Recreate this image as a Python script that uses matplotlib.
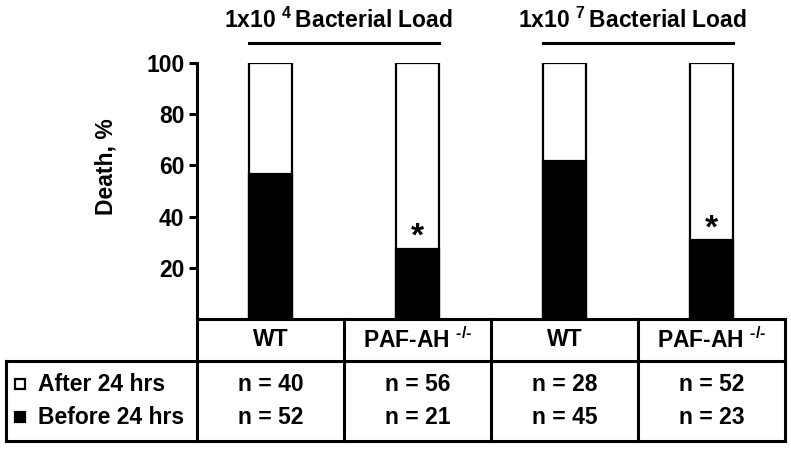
import matplotlib
matplotlib.use("Agg")
import matplotlib.pyplot as plt
import matplotlib.transforms as mtransforms

plt.rcParams['font.family'] = ['Liberation Sans', 'DejaVu Sans']
plt.rcParams['font.weight'] = 'bold'
plt.rcParams['mathtext.fontset'] = 'custom'
plt.rcParams['mathtext.rm'] = 'Liberation Sans:bold'
plt.rcParams['mathtext.bf'] = 'Liberation Sans:bold'
plt.rcParams['mathtext.default'] = 'bf'

# data
groups = ["WT", r"PAF-AH $^{\text{-/-}}$", "WT", r"PAF-AH $^{\text{-/-}}$"]
after_n = [40, 56, 28, 52]
before_n = [52, 21, 45, 23]
before_pct = [56.5, 27.3, 61.6, 30.7]   # % death before 24 hrs
significant = [False, True, False, True]
loads = [r"1x10 $^{4}\,$Bacterial Load", r"1x10 $^{7}\,$Bacterial Load"]
row_labels = ["After 24 hrs", "Before 24 hrs"]
yticks = [20, 40, 60, 80, 100]

fs = 16.5
lw = 2.2

fig = plt.figure(figsize=(7.91, 4.5), dpi=100)
ax = fig.add_axes([197 / 791, 131 / 450, 588 / 791, 256 / 450])

x = [i + 0.5 for i in range(len(groups))]
ax.bar(x, [100] * len(x), width=0.29, color="white", edgecolor="black", linewidth=1.6, zorder=2)
ax.bar(x, before_pct, width=0.29, color="black", edgecolor="black", linewidth=1.6, zorder=3)

for xi, p, s in zip(x, before_pct, significant):
    if s:
        ax.text(xi, p - 1.5, "*", ha="center", va="bottom", fontsize=24, fontweight="bold")

ax.set_xlim(0, 4)
ax.set_ylim(0, 100)
ax.set_xticks([])
ax.set_yticks(yticks)
ax.tick_params(axis="y", length=6, width=lw, labelsize=fs, pad=3)
for sp in ["top", "right", "bottom"]:
    ax.spines[sp].set_visible(False)
ax.spines["left"].set_linewidth(lw)
ax.set_ylabel("Death, %", fontsize=fs, fontweight="bold")
ax.yaxis.set_label_coords(-0.136, 0.594)

trans = mtransforms.blended_transform_factory(ax.transData, ax.transAxes)

# group labels and lines
for k, lab in enumerate(loads):
    left = x[2 * k] - 0.145
    right = x[2 * k + 1] + 0.145
    ax.plot([left, right], [1.078, 1.078], color="black", lw=lw, transform=trans, clip_on=False)
    ax.text((left + right) / 2 - 0.04, 1.168, lab, ha="center", va="center", fontsize=fs,
            fontweight="bold", transform=trans)

# table below
y_top, y_mid, y_bot = 0.0, -0.164, -0.477
x_left = -1.30
kw = dict(color="black", lw=lw, transform=trans, clip_on=False, solid_capstyle="projecting")
ax.plot([0, 4], [y_top, y_top], **kw)
ax.plot([x_left, 4], [y_mid, y_mid], **kw)
ax.plot([x_left, 4], [y_bot, y_bot], **kw)
ax.plot([x_left, x_left], [y_mid, y_bot], **kw)
for c in range(5):
    ax.plot([c, c], [y_top, y_bot], **kw)

row_y = [-0.254, -0.383]
for xi, g, a, b in zip(x, groups, after_n, before_n):
    ax.text(xi, (y_top + y_mid) / 2, g, ha="center", va="center", fontsize=fs, transform=trans)
    ax.text(xi, row_y[0], "n = %d" % a, ha="center", va="center", fontsize=fs, transform=trans)
    ax.text(xi, row_y[1], "n = %d" % b, ha="center", va="center", fontsize=fs, transform=trans)

ax.plot([-1.205], [row_y[0]], marker="s", ms=7, mfc="white", mec="black", mew=1.6,
        transform=trans, clip_on=False)
ax.plot([-1.205], [row_y[1]], marker="s", ms=7, mfc="black", mec="black", mew=1.6,
        transform=trans, clip_on=False)
for ry, lab in zip(row_y, row_labels):
    ax.text(-1.085, ry, lab, ha="left", va="center", fontsize=fs, transform=trans)

fig.savefig("out.png", dpi=100)
